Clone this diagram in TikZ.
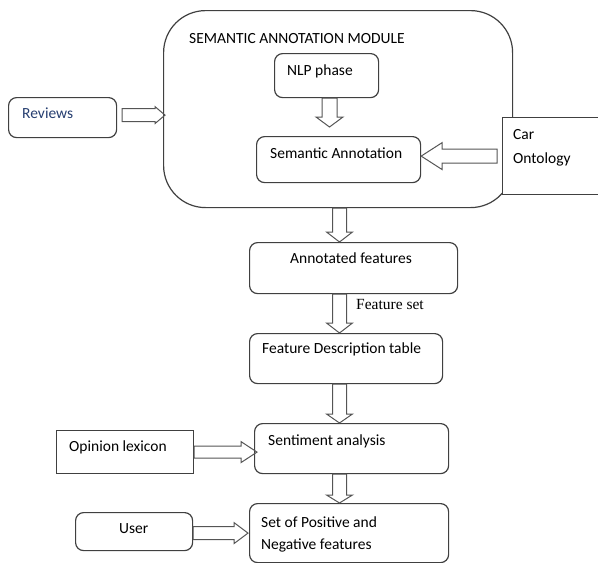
\documentclass[tikz,border=0pt]{standalone}
\usepackage{fontspec}
\setmainfont{Carlito}
\newfontfamily\seriffont{Liberation Serif}
\usetikzlibrary{calc}
\definecolor{boxline}{RGB}{64,64,64}
\definecolor{arrowline}{RGB}{85,85,85}
\definecolor{reviewblue}{RGB}{38,62,112}

\begin{document}
\begin{tikzpicture}[x=1pt,y=-1pt,line join=miter,
  font=\fontsize{15.5}{19}\selectfont,
  rbox/.style={draw=boxline,line width=1.2pt,rounded corners=8pt,anchor=north west,inner sep=0pt},
  sbox/.style={draw=boxline,fill=white,line width=1.2pt,anchor=north west,inner sep=0pt},
  txt/.style={anchor=base west,inner sep=0pt},
  vblock/.style n args={3}{draw=arrowline,line width=1pt,to path={let \p1=(\tikztostart), \p2=(\tikztotarget) in
    (\x1-#1pt,\y1) -- (\x1-#1pt,\y2+#3pt) -- (\x1-#2pt,\y2+#3pt) -- (\x1,\y2)
    -- (\x1+#2pt,\y2+#3pt) -- (\x1+#1pt,\y2+#3pt) -- (\x1+#1pt,\y1) -- cycle}},
  hblock/.style n args={3}{draw=arrowline,line width=1pt,to path={let \p1=(\tikztostart), \p2=(\tikztotarget), \n1={sign(\x2-\x1)} in
    (\x1,\y1-#1pt) -- (\x2-\n1*#3pt,\y1-#1pt) -- (\x2-\n1*#3pt,\y1-#2pt) -- (\x2,\y1)
    -- (\x2-\n1*#3pt,\y1+#2pt) -- (\x2-\n1*#3pt,\y1+#1pt) -- (\x1,\y1+#1pt) -- cycle}}]
\useasboundingbox (0,0) rectangle (598,563);

% module and its parts
\node[rbox,rounded corners=42pt,minimum width=349pt,minimum height=197pt] (module) at (163,10) {};
\node[txt] (moduleT) at (189,43) {SEMANTIC ANNOTATION MODULE};
\node[rbox,minimum width=104pt,minimum height=44pt] (nlp) at (274,53) {};
\node[txt] (nlpT) at (287,75) {NLP phase};
\node[rbox,minimum width=164pt,minimum height=46pt] (sem) at (256,136) {};
\node[txt] (semT) at (270,158) {Semantic Annotation};

% inputs
\node[rbox,minimum width=108pt,minimum height=40pt] (reviews) at (8,97) {};
\node[txt,text=reviewblue] (reviewsT) at (22,118) {Reviews};
\node[sbox,minimum width=100pt,minimum height=77pt] (onto) at (502,117) {};
\node[txt] (carT) at (513,139) {Car};
\node[txt] (ontoT) at (513,163) {Ontology};
\node[sbox,minimum width=137pt,minimum height=43pt] (lexicon) at (56,430) {};
\node[txt] (lexiconT) at (69,451) {Opinion lexicon};
\node[rbox,minimum width=117pt,minimum height=38pt] (user) at (75,512) {};
\node[txt] (userT) at (119,533) {User};

% main chain
\node[rbox,minimum width=208pt,minimum height=51pt] (annot) at (249,242) {};
\node[txt] (annotT) at (290,263) {Annotated features};
\node[rbox,minimum width=193pt,minimum height=50pt] (fdt) at (249,333) {};
\node[txt] (fdtT) at (262,353) {Feature Description table};
\node[rbox,minimum width=194pt,minimum height=50pt] (senti) at (254,423) {};
\node[txt] (sentiT) at (268,445) {Sentiment analysis};
\node[rbox,minimum width=199pt,minimum height=59pt] (posneg) at (249,503) {};
\node[txt] (posnegT) at (261,527) {Set of Positive and};
\node[txt] (posnegT2) at (261,549) {Negative features};
\node[txt,font=\seriffont\fontsize{15.5}{19}\selectfont] (fsetT) at (356,309) {Feature set};

% arrow ends
\coordinate (col) at (339.5,0);
\coordinate (nlpcol) at (329.5,0);
\coordinate (nlpOut) at (nlp.south -| nlpcol);
\coordinate (semIn) at ($(sem.north -| nlpcol)+(0,-9)$);
\coordinate (modOut) at (module.south -| col);
\coordinate (annotIn) at (annot.north -| col);
\coordinate (annotOut) at (annot.south -| col);
\coordinate (fdtIn) at (fdt.north -| col);
\coordinate (fdtOut) at (fdt.south -| col);
\coordinate (sentiIn) at (senti.north -| col);
\coordinate (sentiOut) at (senti.south -| col);
\coordinate (posnegIn) at (posneg.north -| col);
\coordinate (revOut) at ($(reviews.east)+(5,-2.5)$);
\coordinate (modIn) at ($(module.west)+(2,0)$);
\coordinate (ontoOut) at ($(onto.west)+(-5,0)$);
\coordinate (lexIn) at ($(senti.west)+(3,0)$);
\coordinate (userOut) at ($(user.east)+(0,1.5)$);
\coordinate (posnegLeft) at ($(posneg.west)+(-1,0)$);

% block arrows
\draw[vblock={7.5}{13.5}{10}] (nlpOut) to (semIn);
\draw[vblock={7}{13}{10}] (modOut) to (annotIn);
\draw[vblock={7}{13}{10}] (annotOut) to (fdtIn);
\draw[vblock={7}{13}{9}] (fdtOut) to (sentiIn);
\draw[vblock={7}{13}{8}] (sentiOut) to (posnegIn);
\draw[hblock={6.5}{8.5}{10}] (revOut) to (modIn);
\draw[hblock={7}{13.5}{21}] (ontoOut) to (sem.east);
\draw[hblock={6}{10.5}{16}] (lexicon.east) to (lexIn);
\draw[hblock={6.5}{10.5}{14}] (userOut) to (posnegLeft);
\end{tikzpicture}
\end{document}
